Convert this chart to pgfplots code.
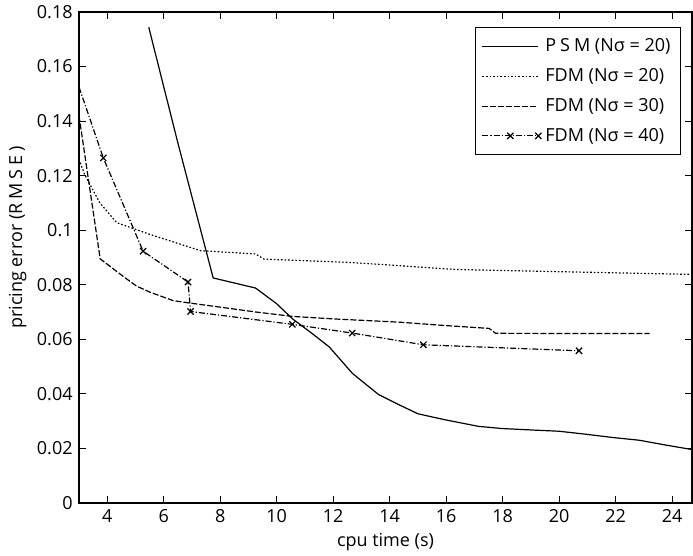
\documentclass[border=0pt]{standalone}
\usepackage{fontspec}
\setmainfont{Open Sans}
\usepackage{pgfplots}
\pgfplotsset{compat=1.18}
\newcommand{\ls}{\hspace{0.22em}}
\begin{document}
\fontsize{9}{11}\selectfont
\begin{tikzpicture}
\begin{axis}[
  scale only axis,
  width=306.5pt, height=245.5pt,
  xmin=3, xmax=24.7, ymin=0, ymax=0.18,
  xtick={4,6,...,24},
  ytick={0,0.02,...,0.18},
  scaled y ticks=false,
  yticklabel style={/pgf/number format/.cd, fixed, precision=2},
  /pgf/number format/assume math mode=true,
  tick align=inside,
  major tick length=3.5pt,
  axis line style={line width=0.7pt},
  tick style={line width=0.6pt, black},
  xlabel={cpu time (s)},
  ylabel={pricing error (R\ls M\ls S\ls E\ls)},
  xlabel style={yshift=1pt},
  ylabel style={yshift=-1pt, xshift=10pt},
  tick label style={font=\fontsize{9}{11}\selectfont},
  label style={font=\fontsize{9}{11}\selectfont},
  legend style={at={(0.982,0.969)}, anchor=north east, draw=black, line width=0.5pt,
    font=\fontsize{9}{11}\selectfont, row sep=3pt, inner xsep=3pt, inner ysep=3.5pt},
  legend cell align=left,
  legend image code/.code={\draw[#1] plot coordinates {(0pt,0pt) (14pt,0pt) (28pt,0pt)};},
  every axis plot/.append style={line width=0.6pt, black},
  clip=true,
]
% PSM (N sigma = 20)
\addplot[solid, mark=none] coordinates {
(5.47,0.1744) (6.5,0.1320) (7.75,0.0825) (9.25,0.0788) (9.98,0.0732) (10.56,0.0675)
(11.27,0.0620) (11.86,0.0572) (12.68,0.0475) (13.6,0.0398) (14.33,0.0360) (15.0,0.0327)
(15.96,0.0305) (17.14,0.0281) (17.97,0.0273) (19.16,0.0267) (20.0,0.0263) (20.95,0.0252)
(21.9,0.0240) (22.84,0.0230) (23.79,0.0212) (24.7,0.0196)
};
\addlegendentry{P\ls S\ls M (Nσ = 20)}
% FDM (N sigma = 20)
\addplot[dash pattern=on 0.8pt off 1pt, mark=none] coordinates {
(3.0,0.1260) (3.2,0.1204) (3.74,0.1100) (4.33,0.1028) (5.5,0.0985) (7.3,0.0925)
(9.25,0.0913) (9.55,0.0894) (12.58,0.0882) (16.35,0.0856) (20.0,0.0848) (24.7,0.0838)
};
\addlegendentry{FDM (Nσ = 20)}
% FDM (N sigma = 30)
\addplot[dash pattern=on 3pt off 1pt, mark=none] coordinates {
(3.0,0.1420) (3.75,0.0895) (4.6,0.0828) (5.04,0.0795) (5.51,0.0773) (6.33,0.0742)
(6.92,0.0733) (8.0,0.0718) (9.27,0.0700) (10.56,0.0684) (11.98,0.0675) (14.33,0.0663)
(15.76,0.0652) (17.52,0.0640) (17.75,0.0622) (23.2,0.0621)
};
\addlegendentry{FDM (Nσ = 30)}
% FDM (N sigma = 40)
\addplot[dash pattern=on 3pt off 1pt on 0.6pt off 1pt, mark=x, mark size=2.2pt,
  mark options={solid, line width=0.6pt}, mark indices={2,3,4,5,6,7,8,9}] coordinates {
(3.0,0.1525) (3.86,0.1265) (5.27,0.0923) (6.86,0.0810) (6.95,0.0702) (10.55,0.0655)
(12.67,0.0623) (15.19,0.0580) (20.7,0.0558)
};
\addlegendentry{FDM (Nσ = 40)}
\end{axis}
\pgfresetboundingbox
\path[use as bounding box] (current axis.south west) ++(-39.5pt,-26.5pt) rectangle ++(346.5pt,278pt);
\end{tikzpicture}
\end{document}
